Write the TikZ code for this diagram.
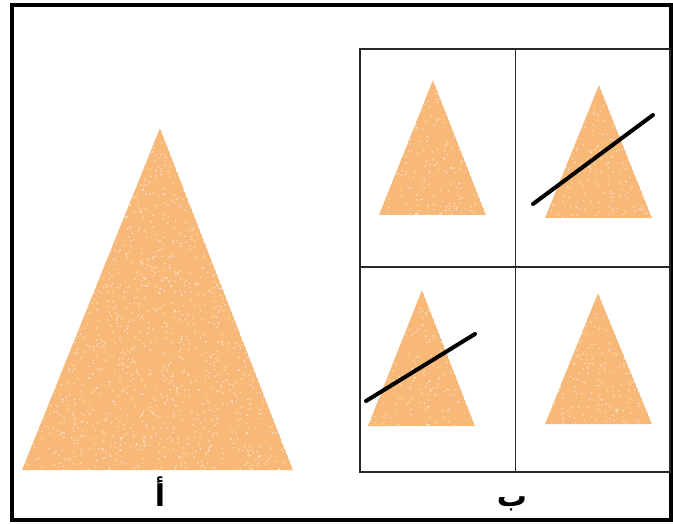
\documentclass[tikz,border=0pt]{standalone}
\usepackage{fontspec}
\TeXXeTstate=1
\newfontfamily\arabicfont[Script=Arabic]{DejaVu Sans}
\definecolor{sand}{RGB}{247,184,120}
\tikzset{
  cone/.style={fill=sand, draw=none},
  cutline/.style={line width=4pt, line cap=round, black},
  gridline/.style={line width=1.5pt, draw={rgb,255:red,40;green,40;blue,40}},
  lbl/.style={font=\arabicfont\bfseries\fontsize{30}{32}\selectfont, inner sep=0pt, anchor=base}
}
\newcommand{\speckle}[7]{% x1 y1 x2 y2 x3 y3 count
  \begin{scope}
    \clip (#1,#2) -- (#3,#4) -- (#5,#6) -- cycle;
    \fill[cone] (#1,#2) -- (#3,#4) -- (#5,#6) -- cycle;
    \foreach \k in {1,...,#7}{
      \pgfmathsetmacro{\px}{min(#3,#5)+rnd*abs(#3-#5)}
      \pgfmathsetmacro{\py}{#2+rnd*(#4-#2)}
      \fill[white,opacity=0.55] (\px,\py) circle (0.9);
    }
  \end{scope}}
\begin{document}
\begin{tikzpicture}[x=1pt,y=-1pt]
\pgfmathsetseed{7}
\useasboundingbox (0,0) rectangle (673,524);
\fill[white] (0,0) rectangle (673,524);
% outer border
\draw[line width=4pt] (12,5) rectangle (671,520);
% big cone
\speckle{160}{128}{293}{470}{22}{470}{2000}
\node[lbl] (a) at (160,506) {\beginR أ\endR};
% grid
\draw[gridline] (360,49) rectangle (670,472);
\draw[gridline] (515.5,49) -- (515.5,472);
\draw[gridline] (360,267) -- (670,267);
% small cones
\speckle{433}{80}{486}{215}{379}{215}{260}
\speckle{599}{85}{652}{218}{545}{218}{260}
\speckle{422}{290}{475}{426}{368}{426}{260}
\speckle{598}{293}{652}{424}{545}{424}{260}
% cutting lines
\draw[cutline] (533,204) -- (653,115);
\draw[cutline] (366,401) -- (475,334);
\node[lbl] (b) at (512,506) {\beginR ب\endR};
\end{tikzpicture}
\end{document}
